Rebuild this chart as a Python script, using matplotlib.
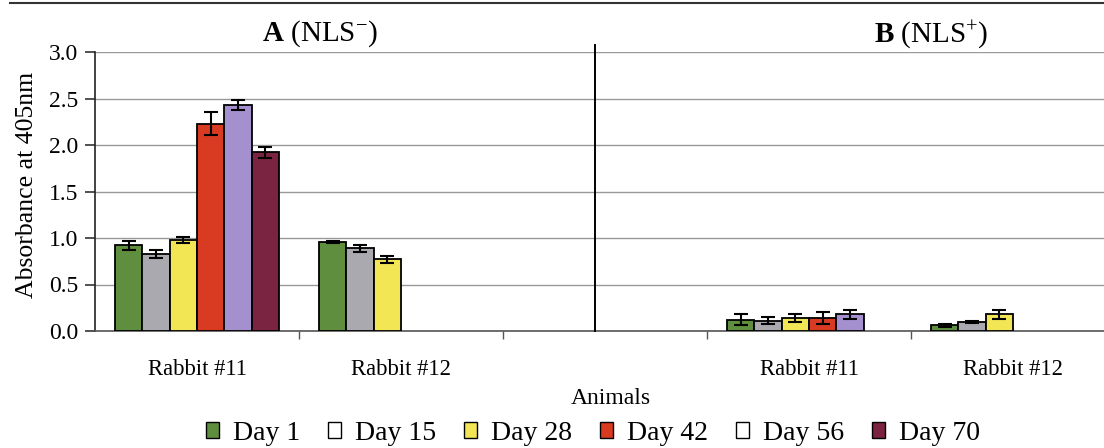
import matplotlib
matplotlib.use("Agg")
import matplotlib.pyplot as plt
import numpy as np
from matplotlib.patches import Patch
from matplotlib.lines import Line2D

# ---------------- data ----------------
days = ["Day 1", "Day 15", "Day 28", "Day 42", "Day 56", "Day 70"]
animals = ["Rabbit #11", "Rabbit #12"]

# Panel A (NLS-)
a_r11_mean = [0.92, 0.83, 0.98, 2.23, 2.43, 1.92]
a_r11_err = [0.05, 0.04, 0.03, 0.12, 0.05, 0.06]
a_r12_mean = [0.96, 0.89, 0.77, np.nan, np.nan, np.nan]
a_r12_err = [0.01, 0.04, 0.04, np.nan, np.nan, np.nan]

# Panel B (NLS+)
b_r11_mean = [0.12, 0.11, 0.14, 0.14, 0.18, np.nan]
b_r11_err = [0.06, 0.04, 0.04, 0.06, 0.05, np.nan]
b_r12_mean = [0.06, 0.10, 0.18, np.nan, np.nan, np.nan]
b_r12_err = [0.02, 0.01, 0.05, np.nan, np.nan, np.nan]

yticks = [0.0, 0.5, 1.0, 1.5, 2.0, 2.5, 3.0]

# ---------------- style ----------------
colors = ["#5f8f3e", "#aaa9b0", "#f2e655", "#d83a22", "#a590cf", "#7b2441"]
legend_faces = ["#5f8f3e", "white", "#f2e655", "#d83a22", "white", "#7b2441"]

plt.rcParams["font.family"] = ["Liberation Serif", "DejaVu Serif"]
plt.rcParams["mathtext.fontset"] = "custom"
plt.rcParams["mathtext.rm"] = "Liberation Serif"
plt.rcParams["mathtext.it"] = "Liberation Serif:italic"
plt.rcParams["mathtext.bf"] = "Liberation Serif:bold"

W, H = 1104, 448
fig = plt.figure(figsize=(W / 100, H / 100), dpi=100)
left_px, right_px, top_px, bot_px = 95, 1104, 52, 331
ax = fig.add_axes([left_px / W, 1 - bot_px / H, (right_px - left_px) / W, (bot_px - top_px) / H])

groups = [
    (a_r11_mean, a_r11_err),
    (a_r12_mean, a_r12_err),
    None,  # gap between the two panels
    (b_r11_mean, b_r11_err),
    (b_r12_mean, b_r12_err),
]

n = len(days)
bw = 0.134
for gi, g in enumerate(groups):
    if g is None:
        continue
    means, errs = g
    for di in range(n):
        v = means[di]
        if np.isnan(v):
            continue
        x = gi + (di - (n - 1) / 2) * bw
        ax.bar(x, v, width=bw, color=colors[di], edgecolor="black", linewidth=1.3, zorder=3,
               yerr=errs[di], capsize=5,
               error_kw=dict(elinewidth=1.5, capthick=1.5, ecolor="black", zorder=4))

ax.set_ylim(0, 3.0)
ax.set_xlim(-0.5, -0.5 + (right_px - left_px) / 204.0)
ax.set_yticks(yticks)
ax.set_yticklabels([f"{t:.1f}" for t in yticks])
ax.grid(axis="y", color="#999999", linewidth=1.0, zorder=0)
ax.set_axisbelow(True)

for s in ["top", "right"]:
    ax.spines[s].set_visible(False)
ax.spines["left"].set_color("#222222")
ax.spines["left"].set_linewidth(1.2)
ax.spines["bottom"].set_color("#555555")
ax.spines["bottom"].set_linewidth(1.2)

ax.tick_params(axis="y", direction="out", length=7, width=1.1, labelsize=17, pad=5, color="#222222")
# category boundaries as major ticks, labels as minor ticks
ax.set_xticks([0.5, 1.5, 2.5, 3.5])
ax.set_xticklabels([])
ax.tick_params(axis="x", which="major", direction="out", length=6, width=1.0, color="#555555")
label_pos = [0, 1, 3, 4]
ax.set_xticks(label_pos, minor=True)
ax.set_xticklabels(animals + animals, minor=True)
ax.tick_params(axis="x", which="minor", length=0, labelsize=16.3, pad=20)

# divider between panels
ax.plot([1.951, 1.951], [0, 3.07], color="black", linewidth=1.4, clip_on=False, zorder=5)

# panel titles
fig.text(320 / W, 1 - 34 / H, r"$\mathbf{A}$ (NLS$^{-}$)", ha="center", va="center", fontsize=21)
fig.text(931 / W, 1 - 35 / H, r"$\mathbf{B}$ (NLS$^{+}$)", ha="center", va="center", fontsize=21)

# axis labels
fig.text(27 / W, 1 - 185 / H, "Absorbance at 405nm", rotation=90, ha="center", va="center", fontsize=18.5)
fig.text(611 / W, 1 - 398 / H, "Animals", ha="center", va="center", fontsize=17)

# top rule (page header remnant)
fig.add_artist(Line2D([10 / W, 1.0], [1 - 3 / H, 1 - 3 / H], transform=fig.transFigure,
                      color="#333333", linewidth=1.5))

# legend
handles = [Patch(facecolor=legend_faces[i], edgecolor="black", linewidth=1.0) for i in range(n)]
fig.legend(handles, days, loc="center", bbox_to_anchor=(593 / W, 1 - 433 / H), ncol=6,
           frameon=False, fontsize=20, handlelength=0.48, handleheight=0.5,
           handletextpad=0.5, columnspacing=1.0, borderpad=0)

fig.savefig("out.png", dpi=100)
